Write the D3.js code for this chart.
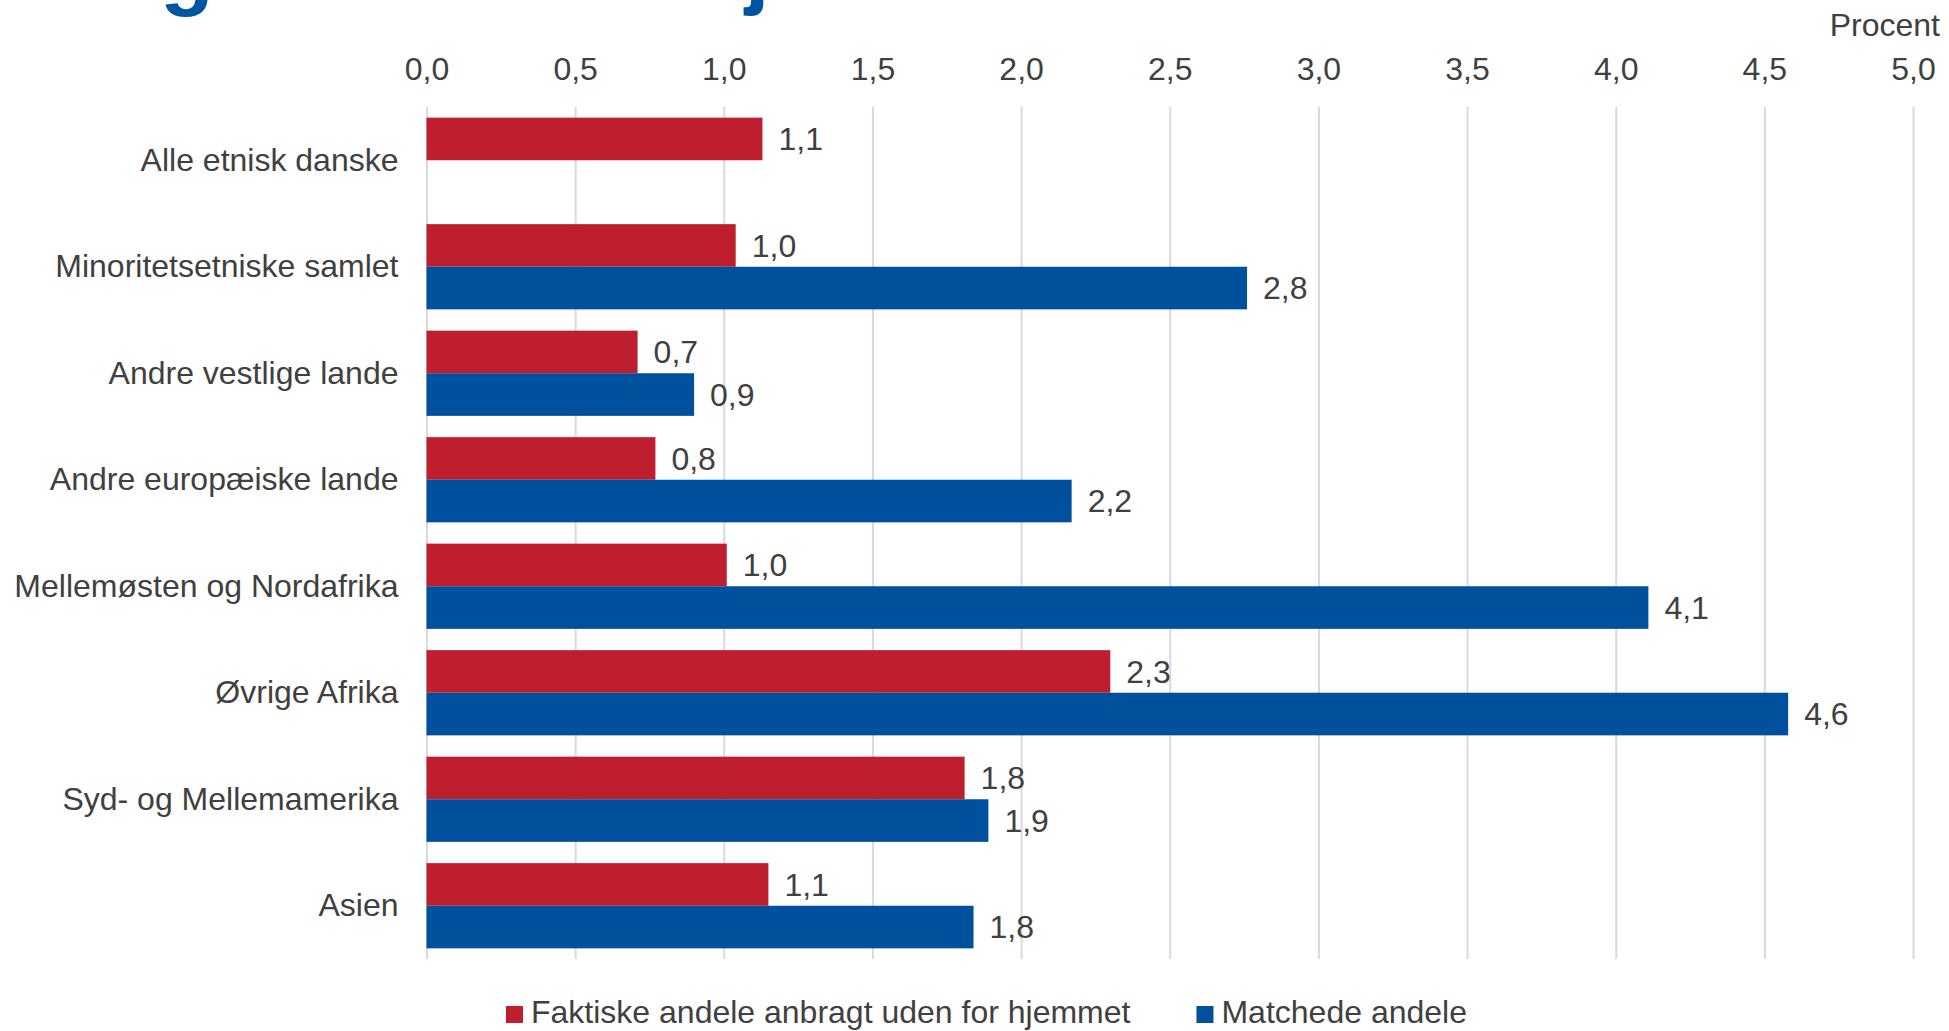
<!DOCTYPE html>
<html>
<head>
<meta charset="utf-8">
<script src="https://cdn.jsdelivr.net/npm/d3@7"></script>
<style>
  body { margin: 0; background: #fff; }
  text { font-family: Arial, "Liberation Sans", sans-serif; fill: #404040; }
</style>
</head>
<body>
<div id="chart"></div>
<script>
// data
const categories = [
    "Alle etnisk danske",
    "Minoritetsetniske samlet",
    "Andre vestlige lande",
    "Andre europæiske lande",
    "Mellemøsten og Nordafrika",
    "Øvrige Afrika",
    "Syd- og Mellemamerika",
    "Asien"
];
const seriesNames = ["Faktiske andele anbragt uden for hjemmet", "Matchede andele"];
const faktiske = [1.13, 1.04, 0.71, 0.77, 1.01, 2.30, 1.81, 1.15];
const matchede = [null, 2.76, 0.90, 2.17, 4.11, 4.58, 1.89, 1.84];
const xTicks = [0, 0.5, 1, 1.5, 2, 2.5, 3, 3.5, 4, 4.5, 5];
const colors = ["#be1e2d", "#00509e"];

const width = 1949;
const height = 1031;
const plotLeft = 426.5;
const plotRight = 1913;
const plotTop = 107;
const plotBottom = 959;

const locale = d3.formatLocale({ decimal: ",", thousands: ".", grouping: [3], currency: ["", " kr"] });
const fmt = locale.format(".1f");

const svg = d3.select("#chart")
    .append("svg")
    .attr("width", width)
    .attr("height", height);

// cut-off title, only the descenders are visible at the top edge
svg.append("text").attr("x", 160).attr("y", -1)
    .style("font-size", "88px").style("font-weight", "bold").style("fill", "#0055a0")
    .text("g");
svg.append("text").attr("x", 745).attr("y", -2)
    .style("font-size", "88px").style("font-weight", "bold").style("fill", "#0055a0")
    .text("j");

//scales
const xScale = d3.scaleLinear().domain([0, 5]).range([plotLeft, plotRight]);
const yScale = d3.scaleBand().domain(categories).range([plotTop, plotBottom])
    .paddingInner(0.2).paddingOuter(0.1);
const inner = d3.scaleBand().domain([0, 1]).range([0, yScale.bandwidth()]);

// gridlines
const grid = svg.append("g")
    .attr("transform", "translate(0," + plotBottom + ")")
    .call(d3.axisBottom(xScale).tickValues(xTicks).tickSize(-(plotBottom - plotTop)).tickFormat(""));
grid.select(".domain").remove();
grid.selectAll("line").attr("stroke", "#d9d9d9").attr("stroke-width", 2);

// x tick labels on top
const xAxis = svg.append("g")
    .attr("transform", "translate(0,80)")
    .call(d3.axisTop(xScale).tickValues(xTicks).tickSize(0).tickPadding(0).tickFormat(fmt));
xAxis.select(".domain").remove();
xAxis.selectAll("text").style("font-size", "32px").attr("fill", "#404040");

svg.append("text")
    .attr("x", 1940)
    .attr("y", 36)
    .style("font-size", "32px")
    .style("text-anchor", "end")
    .text("Procent");

// category labels
const yAxis = svg.append("g")
    .attr("transform", "translate(" + plotLeft + ",0)")
    .call(d3.axisLeft(yScale).tickSize(0).tickPadding(28));
yAxis.select(".domain").remove();
yAxis.selectAll("text").style("font-size", "32px").attr("fill", "#404040");

// bars
[faktiske, matchede].forEach(function (values, s) {
    const rows = values.map(function (v, i) { return { cat: categories[i], v: v }; })
        .filter(function (d) { return d.v !== null; });

    svg.append("g").selectAll("rect")
        .data(rows)
        .enter()
        .append("rect")
        .attr("x", xScale(0))
        .attr("y", d => yScale(d.cat) + inner(s))
        .attr("width", d => xScale(d.v) - xScale(0))
        .attr("height", inner.bandwidth())
        .attr("fill", colors[s]);

    svg.append("g").selectAll("text")
        .data(rows)
        .enter()
        .append("text")
        .attr("x", d => xScale(d.v) + 16)
        .attr("y", d => yScale(d.cat) + inner(s) + inner.bandwidth() / 2)
        .attr("dy", "0.35em")
        .style("font-size", "32px")
        .text(d => fmt(d.v));
});

// legend
const legend = svg.append("g").attr("transform", "translate(506,0)");
let lx = 0;
seriesNames.forEach(function (name, s) {
    legend.append("rect")
        .attr("x", lx).attr("y", 1006)
        .attr("width", 17).attr("height", 17)
        .attr("fill", colors[s]);
    const t = legend.append("text")
        .attr("x", lx + 25).attr("y", 1023)
        .style("font-size", "32px")
        .text(name);
    lx += 25 + t.node().getComputedTextLength() + 66;
});
</script>
</body>
</html>
